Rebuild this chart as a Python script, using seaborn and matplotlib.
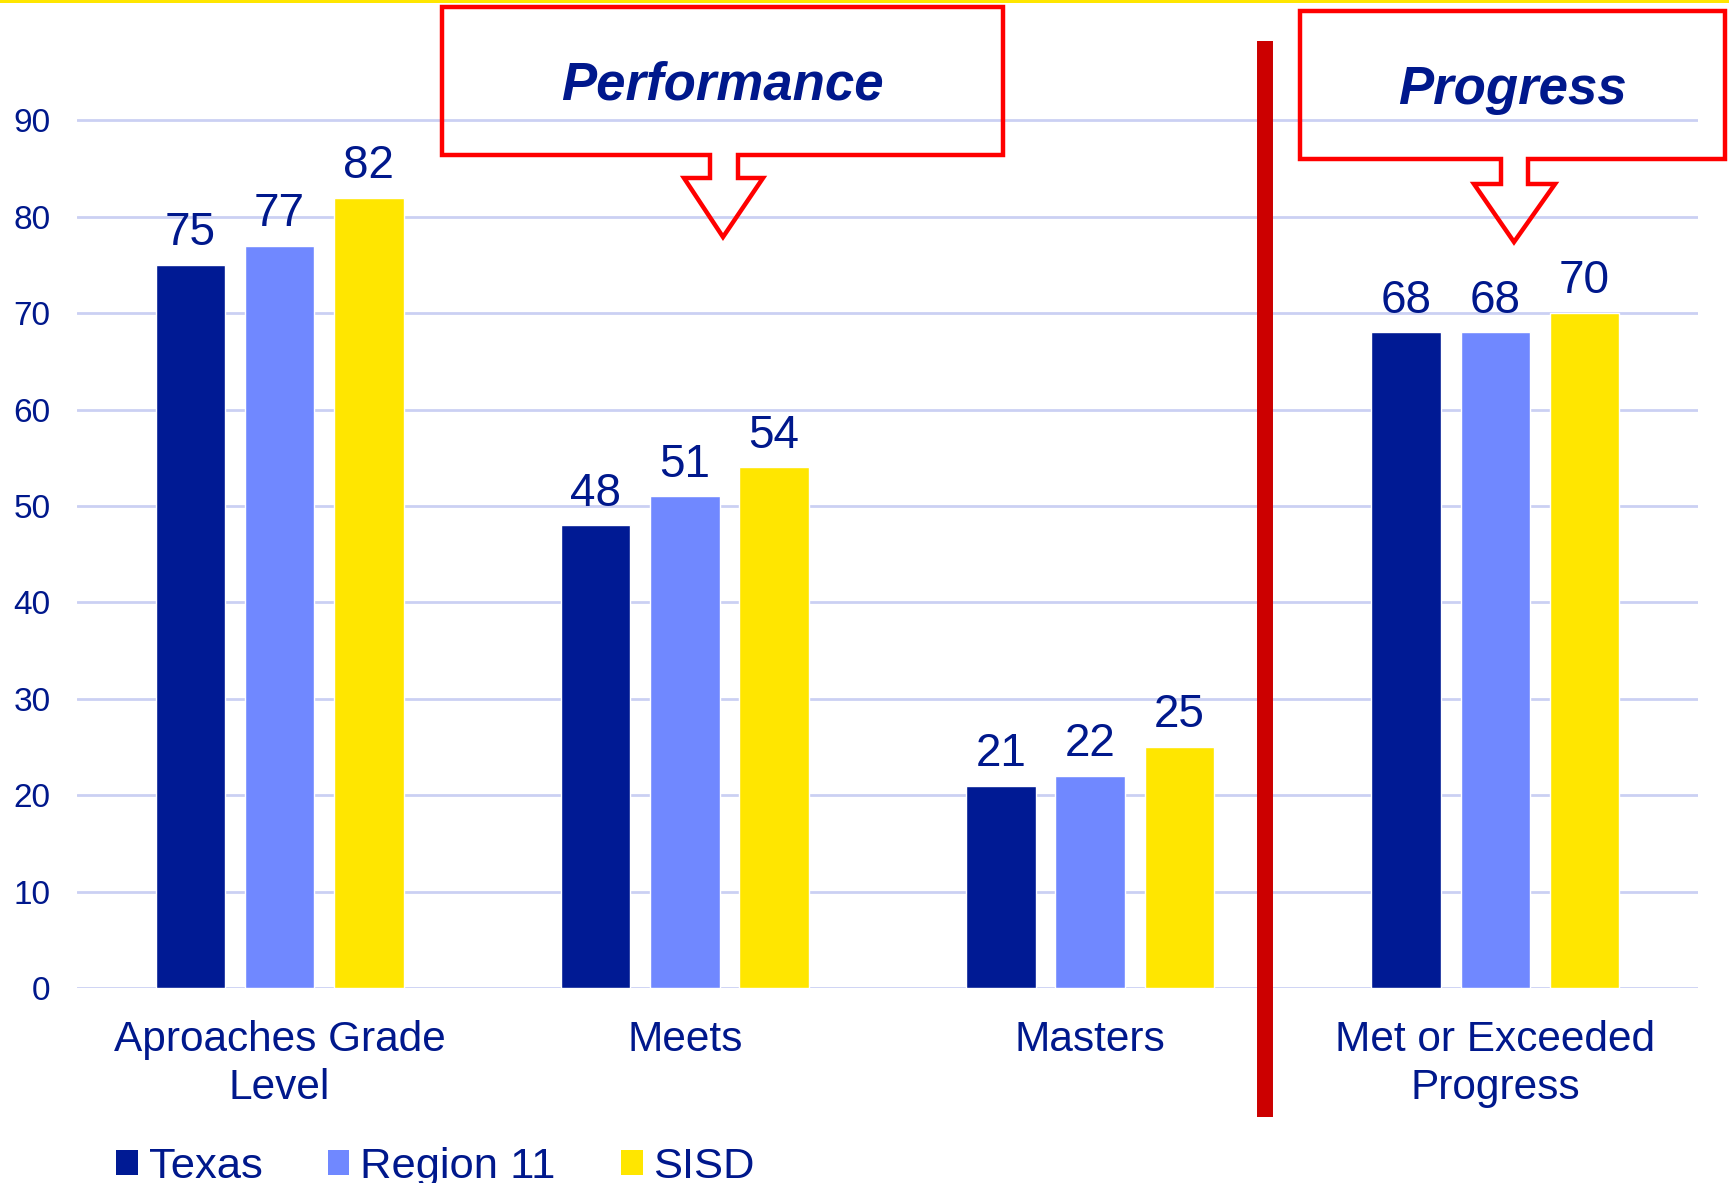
import pandas as pd
import matplotlib.pyplot as plt
import seaborn as sns
from matplotlib.patches import Patch, Polygon, Rectangle
from matplotlib.lines import Line2D

# -------------------
# Data
# -------------------
categories = ["Aproaches Grade\nLevel", "Meets", "Masters", "Met or Exceeded\nProgress"]
groups = ["Texas", "Region 11", "SISD"]
texas = [75, 48, 21, 68]
region11 = [77, 51, 22, 68]
sisd = [82, 54, 25, 70]
yticks = [0, 10, 20, 30, 40, 50, 60, 70, 80, 90]

colors = ["#001A94", "#7088FF", "#FFE600"]
navy = "#00188C"
grid_col = "#CBD0F3"

rows = []
for g, vals in zip(groups, [texas, region11, sisd]):
    for c, v in zip(categories, vals):
        rows.append({"Category": c, "Group": g, "Value": v})
df = pd.DataFrame(rows)

sns.set_style("white")
plt.rcParams["font.family"] = ["Liberation Sans", "DejaVu Sans"]

W, H = 1729, 1183
fig = plt.figure(figsize=(W / 100, H / 100), dpi=100)
ax = fig.add_axes([77 / W, (H - 988) / H, (1698 - 77) / W, 964 / H])

sns.barplot(data=df, x="Category", y="Value", hue="Group", order=categories,
            hue_order=groups, palette=colors, width=0.66, gap=0.22,
            saturation=1, legend=False, ax=ax)

for cont, vals in zip(ax.containers, [texas, region11, sisd]):
    ax.bar_label(cont, labels=[str(v) for v in vals], padding=7,
                 fontsize=33, color=navy)

ax.set_xlim(-0.5, 3.5)
ax.set_ylim(0, 100)
ax.set_yticks(yticks)
ax.yaxis.grid(True, color=grid_col, linewidth=2)
ax.set_axisbelow(True)
for s in ax.spines.values():
    s.set_visible(False)
ax.set_xlabel("")
ax.set_ylabel("")
ax.tick_params(axis="x", length=0, pad=23, labelsize=30.5, labelcolor=navy)
ax.tick_params(axis="y", length=0, pad=19, labelsize=24, labelcolor=navy)
for lbl in ax.get_xticklabels():
    lbl.set_linespacing(1.27)


# -------------------
# Decorations (figure pixel coords)
# -------------------
def fx(px):
    return px / W


def fy(py):
    return 1 - py / H


# yellow strip at the top
fig.patches.append(Rectangle((0, fy(3)), 1, 3 / H, transform=fig.transFigure,
                             color="#FFE600", lw=0))

# red divider
fig.lines.append(Line2D([fx(1265), fx(1265)], [fy(41), fy(1117)],
                        transform=fig.transFigure, color="#CC0000", lw=11.5,
                        solid_capstyle="butt"))


def callout(left, right, top, bottom, s0, s1, h0, h1, head_y, tip, text):
    pts = [(left, top), (right, top), (right, bottom), (s1, bottom), (s1, head_y),
           (h1, head_y), tip, (h0, head_y), (s0, head_y), (s0, bottom), (left, bottom)]
    pts = [(fx(x), fy(y)) for x, y in pts]
    fig.patches.append(Polygon(pts, closed=True, fill=False, edgecolor="#FF0000",
                               lw=3.2, joinstyle="miter", transform=fig.transFigure))
    fig.text(fx((left + right) / 2), fy((top + bottom) / 2 + 5), text,
             ha="center", va="center", fontsize=38, fontweight="bold",
             fontstyle="italic", color=navy)


callout(442, 1003, 7, 155, 710, 738, 684, 763, 178, (723, 237), "Performance")
callout(1300, 1725, 11, 159, 1501, 1528, 1474, 1555, 184, (1514, 242), "Progress")

# legend
handles = [Patch(facecolor=c, edgecolor="none", label=g) for c, g in zip(colors, groups)]
fig.legend(handles=handles, loc="lower left", bbox_to_anchor=(fx(116), fy(1187)),
           ncol=3, frameon=False, fontsize=31.3, labelcolor=navy,
           handlelength=0.5, handleheight=0.5, handletextpad=0.25,
           columnspacing=1.5, borderaxespad=0, borderpad=0)

fig.savefig("out.png", dpi=100)
